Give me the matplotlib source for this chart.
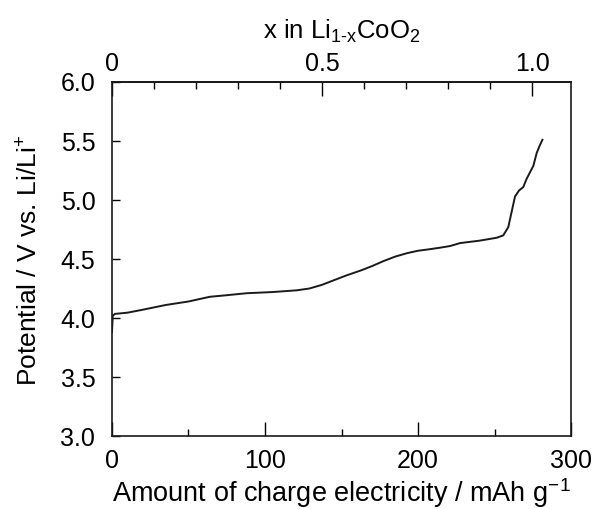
import matplotlib
matplotlib.use("Agg")
import matplotlib.pyplot as plt
from matplotlib.ticker import MultipleLocator

plt.rcParams['font.family'] = ['Liberation Sans', 'DejaVu Sans']
plt.rcParams['mathtext.fontset'] = 'custom'
plt.rcParams['mathtext.rm'] = 'Liberation Sans'
plt.rcParams['mathtext.it'] = 'Liberation Sans'

capacity = [0, 0.5, 2, 10, 20, 35, 50, 64, 72.5, 88, 105, 121, 129, 137, 145, 153, 162,
            170, 177, 185, 193, 200, 206, 214, 221, 227.5, 240, 251.4, 255.7, 259,
            261.2, 263.4, 266, 268.8, 271, 273, 275.4, 277.6, 279.5, 281.3]
potential = [3.88, 4.02, 4.035, 4.045, 4.07, 4.11, 4.14, 4.18, 4.19, 4.21, 4.22, 4.235,
             4.25, 4.28, 4.32, 4.36, 4.40, 4.44, 4.48, 4.52, 4.55, 4.57, 4.58, 4.595,
             4.61, 4.635, 4.655, 4.68, 4.70, 4.77, 4.90, 5.03, 5.08, 5.11, 5.18, 5.23,
             5.29, 5.40, 5.46, 5.51]
theoretical = 274.5

fig = plt.figure(figsize=(5.95, 5.09), dpi=100)
ax = fig.add_axes([0.1882, 0.1434, 0.7715, 0.6955])
ax.plot(capacity, potential, color='#1a1a1a', lw=1.4)

ax.set_xlim(0, 300)
ax.set_ylim(3.0, 6.0)
ax.xaxis.set_major_locator(MultipleLocator(100))
ax.xaxis.set_minor_locator(MultipleLocator(50))
ax.yaxis.set_major_locator(MultipleLocator(0.5))
ax.yaxis.set_major_formatter(plt.FormatStrFormatter('%.1f'))
ax.tick_params(axis='x', which='major', direction='in', length=10, width=1, labelsize=18, pad=9)
ax.tick_params(axis='x', which='minor', direction='in', length=5, width=1)
ax.tick_params(axis='y', which='major', direction='in', length=6, width=1, labelsize=18, pad=12)
for s in ax.spines.values():
    s.set_linewidth(1.2)
    s.set_color('#1a1a1a')

ax.set_xlabel('Amount of charge electricity / mAh g$^{-1}$', fontsize=19.5, labelpad=3)
ax.set_ylabel('Potential / V vs. Li/Li$^{+}$', fontsize=19)
ax.yaxis.set_label_coords(-0.152, 0.495)

sec = ax.secondary_xaxis('top', functions=(lambda c: c / theoretical, lambda x: x * theoretical))
sec.set_xticks([0, 0.5, 1.0])
sec.set_xticklabels(['0', '0.5', '1.0'])
sec.xaxis.set_minor_locator(MultipleLocator(0.1))
sec.tick_params(axis='x', which='major', direction='in', length=10, width=1, labelsize=18, pad=4)
sec.tick_params(axis='x', which='minor', direction='in', length=5, width=1)
sec.spines['top'].set_linewidth(1.2)
sec.set_xlabel('x in Li$_{\\mathregular{1\u2010x}}$CoO$_2$', fontsize=18.5, labelpad=10)

fig.savefig('out.png', dpi=100)
